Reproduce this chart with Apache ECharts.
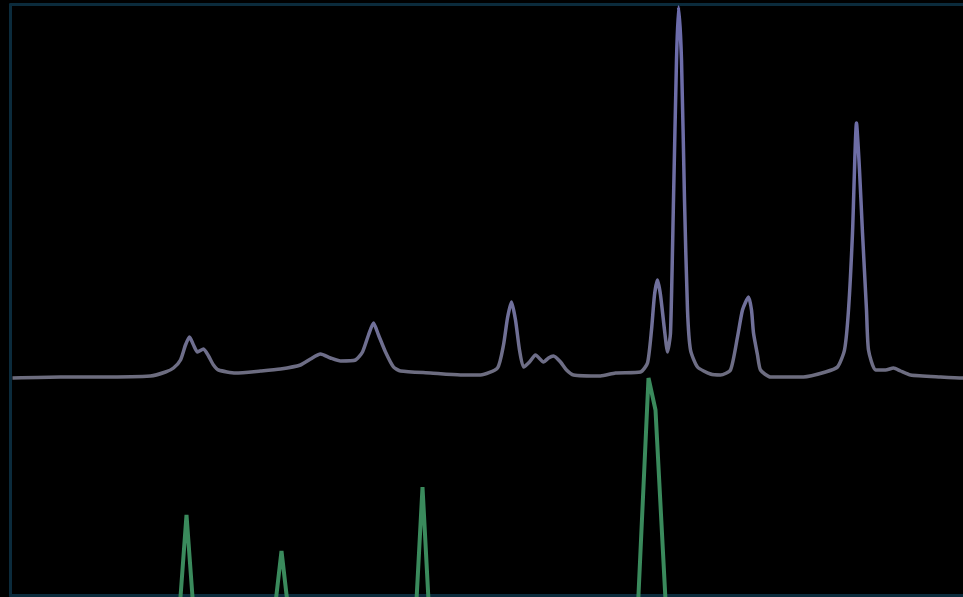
<!DOCTYPE html>
<html>
<head>
<meta charset="utf-8">
<script src="https://cdn.jsdelivr.net/npm/echarts@6/dist/echarts.min.js"></script>
<style>
html,body{margin:0;padding:0;background:#000;}
#c{width:963px;height:597px;}
</style>
</head>
<body>
<div id="c"></div>
<script>
// Measured spectrum (upper trace): position and intensity
var measuredX = [2,50,90,140,155,163,170,175,179,183,187,193,198,203,208,225,250,270,290,300,310,320,330,345,352,358,363,368,375,383,390,420,450,470,487,493,497,501,505,509,513,519,525,533,538,543,550,556,563,590,605,630,637,641,644,647,650,654,657,660,663,666,668,671,674,677,680,687,700,710,720,727,732,738,741,743,747,750,760,793,815,827,834,838,842,846,849,852,856,858,865,875,883,890,900,930,953,970];
var measuredY = [0,1,1,2,6,10,18,33,41,33,26,29,22,13,8,5,7,9,13,19,24,20,17,18,26,43,55,43,26,11,7,5,3,3,10,33,60,76,58,28,11,16,23,16,20,22,16,8,3,2,5,6,15,48,83,98,83,48,26,45,178,318,371,318,178,68,28,11,4,3,8,41,68,81,68,45,23,8,1,1,6,11,28,68,145,255,208,145,68,28,8,8,10,7,3,1,0,0];

// Reference stick spectrum (lower trace)
var referenceX = [0,167,176,185,261,271,281,398,404,412,420,426,626,638,645,657,990];
var referenceY = [-260,-260,-137,-260,-260,-173,-260,-260,-260,-109,-260,-260,-260,0,-32,-260,-260];

function pairs(xs, ys){ return xs.map(function(x,i){ return [x, ys[i]]; }); }

var frame = { show: true, onZero: false, lineStyle: { color: '#0b2b3c', width: 3 } };
var chart = echarts.init(document.getElementById('c'));
chart.setOption({
  backgroundColor: '#000000',
  animation: false,
  grid: { show: false, left: 10.5, top: 4.5, right: 0, bottom: 1.5 },
  xAxis: [
    { type: 'value', min: 0, max: 952.5, position: 'bottom', axisLine: frame,
      axisTick: { show: false }, axisLabel: { show: false }, splitLine: { show: false } },
    { type: 'value', min: 0, max: 952.5, position: 'top', axisLine: frame,
      axisTick: { show: false }, axisLabel: { show: false }, splitLine: { show: false } }
  ],
  yAxis: { type: 'value', min: -217.5, max: 373.5, position: 'left', axisLine: frame,
    axisTick: { show: false }, axisLabel: { show: false }, splitLine: { show: false } },
  series: [
    {
      type: 'line', data: pairs(referenceX, referenceY), showSymbol: false, clip: true,
      lineStyle: { width: 4, color: '#3a8a5c' }
    },
    {
      type: 'line', data: pairs(measuredX, measuredY), showSymbol: false, clip: true,
      smooth: 0.2,
      lineStyle: { width: 3.5, color: {
        type: 'linear', x: 0, y: 0, x2: 0, y2: 1,
        colorStops: [
          { offset: 0, color: '#6c6cac' },
          { offset: 0.5, color: '#6e6ea4' },
          { offset: 0.85, color: '#70709a' },
          { offset: 1, color: '#6c6c7c' }
        ]
      } }
    }
  ]
});
</script>
</body>
</html>
